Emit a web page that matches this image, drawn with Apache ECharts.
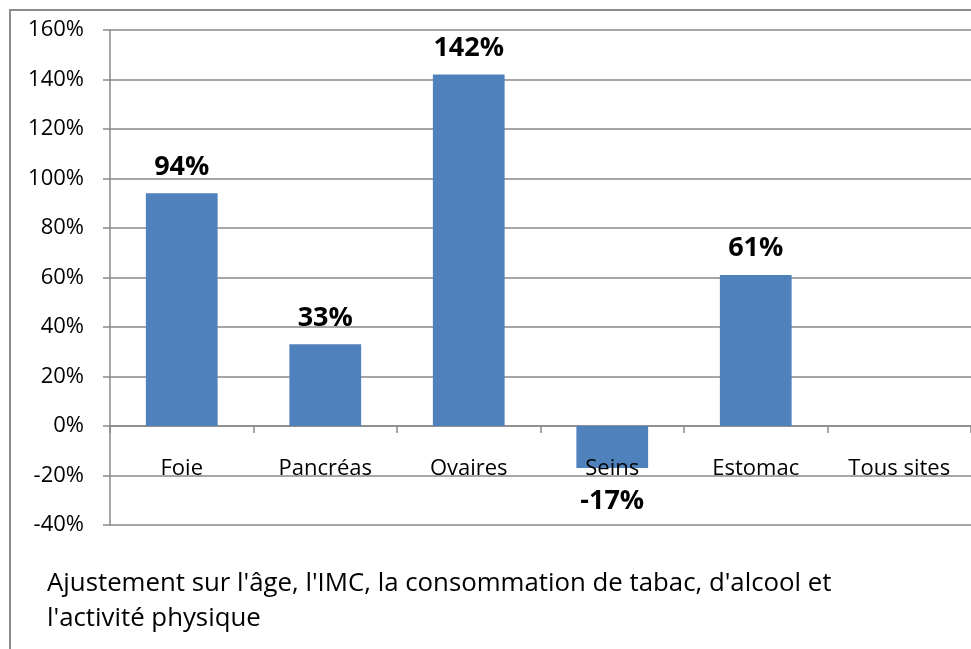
<!DOCTYPE html>
<html>
<head>
<meta charset="utf-8">
<script src="https://cdn.jsdelivr.net/npm/echarts@6/dist/echarts.min.js"></script>
<style>
  html, body { margin: 0; padding: 0; background: #fff; }
  #chart { width: 971px; height: 649px; }
</style>
</head>
<body>
<div id="chart"></div>
<script>
	var categories = ['Foie', 'Pancréas', 'Ovaires', 'Seins', 'Estomac', 'Tous sites'];
	var values = [94, 33, 142, -17, 61, null];
	var yTicks = { min: -40, max: 160, step: 20 };
	var note = ["Ajustement sur l'âge, l'IMC, la consommation de tabac, d'alcool et", "l'activité physique"];

	var font = '"Open Sans", sans-serif';
	var myChart = echarts.init(document.getElementById('chart'), null, { renderer: 'canvas' });

	var option = {
		animation: false,
		backgroundColor: '#fff',
		grid: { left: 110, right: -9, top: 30, bottom: 124 },
		graphic: [
			{
				type: 'rect',
				shape: { x: 10, y: 10, width: 1000, height: 700 },
				style: { fill: 'none', stroke: '#8c8c8c', lineWidth: 2 },
				z: -1
			},
			{
				type: 'text',
				left: 47,
				top: 566,
				style: {
					text: note.join('\n'),
					font: '25.8px ' + font,
					lineHeight: 35,
					fill: '#000'
				}
			}
		],
		xAxis: [{
			// line and ticks sit on the zero line
			type: 'category',
			data: categories,
			axisLine: { onZero: true, lineStyle: { color: '#898989', width: 1.5 } },
			axisTick: { show: true, length: 7, lineStyle: { color: '#898989', width: 1.5 } },
			axisLabel: { show: false },
			splitLine: { show: false }
		}, {
			// labels only, lifted up to just below the zero line, drawn over the bars
			type: 'category',
			data: categories,
			position: 'bottom',
			offset: -99,
			z: 5,
			axisLine: { show: false },
			axisTick: { show: false },
			axisLabel: { color: '#000', fontSize: 22, fontFamily: font, margin: 32 },
			splitLine: { show: false }
		}],
		yAxis: {
			type: 'value',
			min: yTicks.min,
			max: yTicks.max,
			interval: yTicks.step,
			axisLine: { show: true, lineStyle: { color: '#898989', width: 1.5 } },
			axisTick: { show: true, length: 7, lineStyle: { color: '#898989', width: 1.5 } },
			axisLabel: { color: '#000', fontSize: 22, fontFamily: font, margin: 26, formatter: '{value}%' },
			splitLine: { show: true, lineStyle: { color: '#898989', width: 1.5 } }
		},
		series: [{
			type: 'bar',
			barWidth: '50%',
			itemStyle: { color: '#4f81bd' },
			label: {
				show: true,
				position: 'top',
				distance: 13,
				formatter: function(p) { return p.value == null ? '' : p.value + '%'; },
				color: '#000',
				fontSize: 27,
				fontWeight: 'bold',
				fontFamily: font
			},
			// above for positive values, below for negative ones
			data: values.map(function(v) {
				if (v == null) return v;
				return { value: v, label: { position: v < 0 ? 'bottom' : 'top', distance: v < 0 ? 20 : 13 } };
			})
		}]
	};

	myChart.setOption(option);
</script>
</body>
</html>
